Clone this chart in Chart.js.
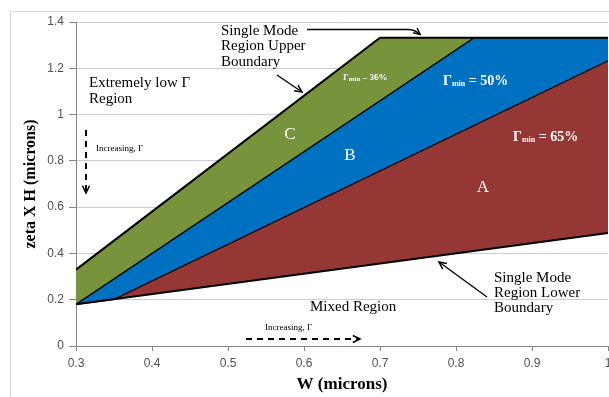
<!DOCTYPE html>
<html><head><meta charset="utf-8">
<script src="https://cdn.jsdelivr.net/npm/chart.js@4.4.1/dist/chart.umd.min.js"></script>
<style>html,body{margin:0;padding:0;background:#fff;overflow:hidden}</style>
</head><body>
<canvas id="c" width="609" height="397" style="display:block;width:609px;height:397px"></canvas>
<script>
// Boundary vertices (W in microns, zeta x H in microns)
const upperW = [0.3, 0.7, 1.0];
const upperH = [0.33, 1.332, 1.332];
const lineC_W = [0.3, 0.824, 1.0];      // boundary between region C and B
const lineC_H = [0.18, 1.332, 1.332];
const lineB_W = [0.3, 0.35, 1.0];       // boundary between region B and A
const lineB_H = [0.18, 0.202, 1.232];
const lowerW = [0.3, 1.0];
const lowerH = [0.18, 0.488];
const xTicks = [0.3, 0.4, 0.5, 0.6, 0.7, 0.8, 0.9, 1.0];
const yTicks = [0, 0.2, 0.4, 0.6, 0.8, 1.0, 1.2, 1.4];

const pts = (xs, ys) => xs.map((x, i) => ({x: x, y: ys[i]}));
const GREEN = '#77933C', BLUE = '#0070C0', RED = '#953735';
const SERIF = '"Liberation Serif", "DejaVu Serif", serif';

const annotations = {
  id: 'annotations',
  beforeDraw(chart) {
    const ctx = chart.ctx;
    ctx.save();
    ctx.strokeStyle = '#d9d9d9';
    ctx.lineWidth = 1;
    ctx.strokeRect(10.5, 11.5, 800, 600);
    ctx.restore();
  },
  afterDraw(chart) {
    const ctx = chart.ctx;
    const t = (s, x, y, size, opts = {}) => {
      ctx.font = (opts.bold ? 'bold ' : '') + size + 'px ' + SERIF;
      ctx.fillStyle = opts.color || '#000';
      ctx.textAlign = opts.align || 'left';
      ctx.textBaseline = 'middle';
      ctx.fillText(s, x, y);
    };
    const head = (x, y, ang, len) => {
      ctx.beginPath();
      ctx.moveTo(x - len * Math.cos(ang - 0.45), y - len * Math.sin(ang - 0.45));
      ctx.lineTo(x, y);
      ctx.lineTo(x - len * Math.cos(ang + 0.45), y - len * Math.sin(ang + 0.45));
      ctx.stroke();
    };
    const arrow = (x1, y1, x2, y2, dashed) => {
      ctx.save();
      ctx.strokeStyle = '#000';
      ctx.lineWidth = dashed ? 2 : 1.3;
      if (dashed) ctx.setLineDash([6, 5]);
      ctx.beginPath(); ctx.moveTo(x1, y1); ctx.lineTo(x2, y2); ctx.stroke();
      ctx.setLineDash([]);
      ctx.lineWidth = 1.5;
      head(x2, y2, Math.atan2(y2 - y1, x2 - x1), 8);
      ctx.restore();
    };
    const gmin = (x, y, big, small, rest, color) => {
      ctx.font = 'bold ' + big + 'px ' + SERIF;
      const w1 = ctx.measureText('Γ').width;
      t('Γ', x, y, big, {bold: true, color});
      ctx.font = 'bold ' + small + 'px ' + SERIF;
      const w2 = ctx.measureText('min').width;
      t('min', x + w1, y + big * 0.18, small, {bold: true, color});
      t(rest, x + w1 + w2, y, big, {bold: true, color});
    };
    ctx.save();
    // upper boundary label
    t('Single Mode', 221, 31, 15);
    t('Region Upper', 221, 46, 15);
    t('Boundary', 221, 62, 15);
    ctx.strokeStyle = '#000'; ctx.lineWidth = 1.3;
    ctx.beginPath(); ctx.moveTo(307, 29.5); ctx.lineTo(408, 29.5);
    ctx.quadraticCurveTo(415, 29.5, 420, 34.5); ctx.stroke();
    ctx.lineWidth = 1.5;
    head(420, 34.5, Math.atan2(1, 1.2), 7);
    arrow(277, 75, 302, 92, false);
    // extremely low region
    t('Extremely low Γ', 89, 83, 15);
    t('Region', 89, 99, 15);
    arrow(86, 130, 86, 193, true);
    t('Increasing, Γ', 96, 149, 9);
    // region letters
    t('C', 290, 135, 17, {color: '#fff', align: 'center'});
    t('B', 350, 156, 17, {color: '#fff', align: 'center'});
    t('A', 483, 188, 17, {color: '#fff', align: 'center'});
    gmin(343, 78, 9, 7, ' – 36%', '#fff');
    gmin(443, 81, 14, 8, ' = 50%', '#fff');
    gmin(513, 137, 14, 8, ' = 65%', '#fff');
    // lower area
    t('Mixed Region', 310, 307, 15);
    t('Single Mode', 494, 278, 15);
    t('Region Lower', 494, 293, 15);
    t('Boundary', 494, 308, 15);
    arrow(487, 297, 439, 262, false);
    t('Increasing, Γ', 265, 328, 9);
    arrow(246, 339, 360, 339, true);
    ctx.restore();
  }
};

new Chart(document.getElementById('c'), {
  type: 'line',
  data: {
    datasets: [
      {data: pts(upperW, upperH), borderColor: '#000', borderWidth: 2, backgroundColor: GREEN, fill: '+1'},
      {data: pts(lineC_W, lineC_H), borderColor: '#000', borderWidth: 1.3, backgroundColor: BLUE, fill: '+1'},
      {data: pts(lineB_W, lineB_H), borderColor: '#000', borderWidth: 1.3, backgroundColor: RED, fill: '+1'},
      {data: pts(lowerW, lowerH), borderColor: '#000', borderWidth: 2, fill: false}
    ]
  },
  options: {
    responsive: false,
    animation: false,
    events: [],
    layout: {padding: {left: 0, right: 1, top: 22, bottom: 0}},
    elements: {point: {radius: 0}, line: {tension: 0}},
    plugins: {legend: {display: false}, tooltip: {enabled: false}, filler: {drawTime: 'beforeDatasetsDraw'}},
    scales: {
      x: {
        type: 'linear', min: 0.3, max: 1.0,
        afterBuildTicks: s => { s.ticks = xTicks.map(v => ({value: v})); },
        afterFit: s => { s.height = 51; s.paddingLeft = 0; s.paddingRight = 0; },
        ticks: {callback: v => String(v), font: {family: '"Liberation Sans", sans-serif', size: 12}, color: '#505050', padding: 5, maxRotation: 0, autoSkip: false},
        grid: {drawOnChartArea: false, tickLength: 5, tickColor: '#868686'},
        border: {color: '#868686'},
        title: {display: true, text: 'W (microns)', font: {family: SERIF, size: 17, weight: 'bold'}, color: '#000', padding: {top: 0, bottom: 2}}
      },
      y: {
        min: 0, max: 1.4, z: 1,
        afterBuildTicks: s => { s.ticks = yTicks.map(v => ({value: v})); },
        afterFit: s => { s.width = 76; s.paddingTop = 0; s.paddingBottom = 0; },
        ticks: {callback: v => String(v), font: {family: '"Liberation Sans", sans-serif', size: 12}, color: '#505050', padding: 5},
        grid: {color: 'rgba(185,185,185,0.7)', tickLength: 7, tickColor: '#868686'},
        border: {color: '#868686'},
        title: {display: true, text: 'zeta X H (microns)', font: {family: SERIF, size: 16, weight: 'bold'}, color: '#000', padding: {top: 21, bottom: 0}}
      }
    }
  },
  plugins: [annotations]
});
</script>
</body></html>
